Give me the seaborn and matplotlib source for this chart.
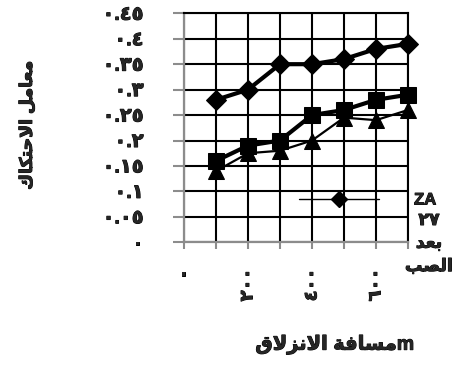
import matplotlib

matplotlib.use('Agg')
import matplotlib.pyplot as plt
import matplotlib.patheffects as pe
from matplotlib.lines import Line2D
import seaborn as sns

# sliding distance (m) and friction coefficient of the three samples
distance = [100, 200, 300, 400, 500, 600, 700]
za27_cast = [0.28, 0.30, 0.35, 0.35, 0.36, 0.38, 0.39]
square_series = [0.16, 0.19, 0.20, 0.25, 0.26, 0.28, 0.29]
triangle_series = [0.14, 0.175, 0.18, 0.20, 0.245, 0.24, 0.26]

y_ticks = [0, 0.05, 0.1, 0.15, 0.2, 0.25, 0.3, 0.35, 0.4, 0.45]
y_tick_labels = ["٠", "٠.٠٥", "٠.١", "٠.١٥", "٠.٢", "٠.٢٥", "٠.٣", "٠.٣٥", "٠.٤", "٠.٤٥"]
x_ticks = [0, 100, 200, 300, 400, 500, 600, 700]
x_tick_labels = ["٠", "", "٢٠٠", "", "٤٠٠", "", "٦٠٠", ""]

# Arabic written in presentation forms, visual (left to right) order,
# since matplotlib does no shaping of its own
y_label = "\uFED9\uFE8E\uFEDC\uFE98\uFEA3\uFEFB\uFE8D \uFEDE\uFEE3\uFE8E\uFECC\uFEE3"   # معامل الاحتكاك
x_label = "\uFED5\uFEFB\uFEB0\uFEE7\uFEFB\uFE8D \uFE94\uFED3\uFE8E\uFEB4\uFEE3m"       # مسافة الانزلاق m
legend_first = "ZA"
legend_rest = "٢٧\n\uFEAA\uFECC\uFE91\n\uFE90\uFEBC\uFEDF\uFE8D"                      # ٢٧ بعد الصب

sns.set_style('white')
plt.rcParams['font.family'] = ['Liberation Sans', 'DejaVu Sans']
plt.rcParams['font.weight'] = 'bold'

# heavier strokes for the Arabic glyphs
heavy = [pe.withStroke(linewidth=0.7, foreground='black')]

fig = plt.figure(figsize=(4.54, 3.73), dpi=100)
ax = fig.add_axes([184 / 454, 1 - 242.3 / 373, 224 / 454, 229 / 373])

sns.lineplot(x=distance, y=za27_cast, ax=ax, color='black', linewidth=3,
             marker='D', markersize=10, markeredgecolor='black', clip_on=False)
sns.lineplot(x=distance, y=square_series, ax=ax, color='black', linewidth=3,
             marker='s', markersize=11, markeredgecolor='black', clip_on=False)
sns.lineplot(x=distance, y=triangle_series, ax=ax, color='black', linewidth=1.6,
             marker='^', markersize=11, markeredgecolor='black', clip_on=False)

ax.set_xlim(0, 700)
ax.set_ylim(0, 0.45)
ax.set_xticks(x_ticks)
ax.set_xticklabels(x_tick_labels, rotation=90, fontsize=13)
ax.set_yticks(y_ticks)
ax.set_yticklabels(y_tick_labels, fontsize=14)
for lbl in ax.get_xticklabels() + ax.get_yticklabels():
    lbl.set_path_effects(heavy)

ax.set_axisbelow(True)
ax.grid(True, color='black', linewidth=1.5)
for side in ['left', 'bottom']:
    ax.spines[side].set_color('#8c8c8c')
    ax.spines[side].set_linewidth(1.6)
for side in ['top', 'right']:
    ax.spines[side].set_color('black')
    ax.spines[side].set_linewidth(1.5)

ax.tick_params(axis='y', left=True, length=8, width=1.5, color='#8c8c8c', pad=21)
ax.tick_params(axis='x', bottom=True, length=5, width=1.5, color='#8c8c8c', pad=14)

ax.set_ylabel(y_label, fontsize=12.5, fontweight='bold', path_effects=heavy)
ax.yaxis.set_label_coords(-0.665, 0.512)
ax.set_xlabel(x_label, fontsize=14, fontweight='bold', va='center', path_effects=heavy)
ax.xaxis.set_label_coords(0.674, -0.448)

handle = Line2D([], [], color='black', linewidth=1, marker='D', markersize=8)
leg = ax.legend(handles=[handle], labels=[legend_first], loc='center left',
                bbox_to_anchor=(299 / 454, 1 - 200 / 373), bbox_transform=fig.transFigure,
                frameon=False, borderpad=0, borderaxespad=0, handlelength=4.8,
                handletextpad=2.1, prop={'size': 12, 'weight': 'bold'})
for t in leg.get_texts():
    t.set_path_effects(heavy)
fig.text(429 / 454, 1 - 213 / 373, legend_rest, ha='center', va='top',
         fontsize=12.5, fontweight='bold', linespacing=1.65, path_effects=heavy)

fig.savefig('out.png', dpi=100)
